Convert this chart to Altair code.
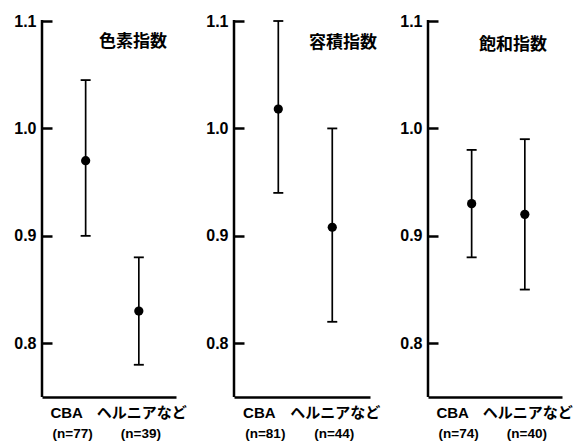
import altair as alt
import pandas as pd

categories = ["CBA", "ヘルニアなど"]
panel_titles = ["色素指数", "容積指数", "飽和指数"]
means = [[0.970, 0.830], [1.018, 0.908], [0.930, 0.920]]
lower = [[0.900, 0.780], [0.940, 0.820], [0.880, 0.850]]
upper = [[1.045, 0.880], [1.100, 1.000], [0.980, 0.990]]
n_labels = [["(n=77)", "(n=39)"], ["(n=81)", "(n=44)"], ["(n=74)", "(n=40)"]]
y_ticks = [0.8, 0.9, 1.0, 1.1]

panel_widths = [134, 136, 134]
title_x = [91, 109, 85]
title_y = [21, 22, 24]
H = 376
LATIN = "Liberation Sans, Noto Sans CJK JP"
CJK = "Noto Sans CJK JP"


def make_panel(i):
    df = pd.DataFrame({
        "group": categories,
        "mean": means[i],
        "lo": lower[i],
        "hi": upper[i],
        "n": n_labels[i],
    })
    xenc = alt.X(
        "group:N",
        sort=categories,
        scale=alt.Scale(type="point", domain=categories, padding=0.76, align=0.54),
        axis=alt.Axis(labels=False, ticks=False, title=None, domain=True),
    )
    yscale = alt.Scale(domain=[0.75, 1.1], nice=False, zero=False)
    base = alt.Chart(df)

    bars = base.mark_rule(color="black", strokeWidth=1.7).encode(
        x=xenc,
        y=alt.Y("lo:Q", scale=yscale,
                axis=alt.Axis(values=y_ticks, format=".1f", title=None, grid=False,
                              ticks=True, tickSize=10, tickWidth=2.5, tickColor="black",
                              offset=-10, domain=False)),
        y2="hi:Q",
    )
    cap_lo = base.mark_tick(orient="horizontal", size=10, thickness=1.8, color="black", opacity=1).encode(
        x=xenc, y=alt.Y("lo:Q", scale=yscale))
    cap_hi = base.mark_tick(orient="horizontal", size=10, thickness=1.8, color="black", opacity=1).encode(
        x=xenc, y=alt.Y("hi:Q", scale=yscale))
    dots = base.mark_circle(size=85, color="black", opacity=1).encode(
        x=xenc, y=alt.Y("mean:Q", scale=yscale))

    spine = alt.Chart(pd.DataFrame({"t": [panel_titles[i]]})).mark_rule(
        color="black", strokeWidth=2.5
    ).encode(x=alt.value(0), y=alt.value(-1), y2=alt.value(H))

    title = alt.Chart(pd.DataFrame({"t": [panel_titles[i]]})).mark_text(
        font=CJK, fontSize=17, fontWeight="bold", color="black", baseline="middle", align="center"
    ).encode(x=alt.value(title_x[i]), y=alt.value(title_y[i]), text="t:N")

    name_cba = base.transform_filter(alt.datum.group == categories[0]).mark_text(
        font=LATIN, fontSize=15, fontWeight="bold", color="black", baseline="middle", dx=-19
    ).encode(x=xenc, y=alt.value(H + 16), text="group:N")
    name_other = base.transform_filter(alt.datum.group == categories[1]).mark_text(
        font=LATIN, fontSize=15, fontWeight="bold", color="black", baseline="middle", dx=3
    ).encode(x=xenc, y=alt.value(H + 16), text="group:N")
    n_cba = base.transform_filter(alt.datum.group == categories[0]).mark_text(
        font=LATIN, fontSize=13.5, fontWeight="bold", color="black", baseline="middle", dx=-13
    ).encode(x=xenc, y=alt.value(H + 37), text="n:N")
    n_other = base.transform_filter(alt.datum.group == categories[1]).mark_text(
        font=LATIN, fontSize=13.5, fontWeight="bold", color="black", baseline="middle", dx=2
    ).encode(x=xenc, y=alt.value(H + 37), text="n:N")

    return alt.layer(bars, cap_lo, cap_hi, dots, spine, title,
                     name_cba, name_other, n_cba, n_other).properties(
        width=panel_widths[i], height=H)


chart = alt.hconcat(*[make_panel(i) for i in range(3)], spacing=58, bounds="flush").properties(
    padding={"left": 5, "top": 5, "right": 0, "bottom": 0},
    background="white",
).configure_view(stroke=None).configure_axis(
    domainColor="black",
    domainWidth=2.5,
    labelColor="black",
    labelFont="Liberation Sans",
    labelFontSize=16,
    labelFontWeight="bold",
    labelPadding=6,
)

chart.save("out.html", embed_options={"renderer": "svg", "actions": False})
